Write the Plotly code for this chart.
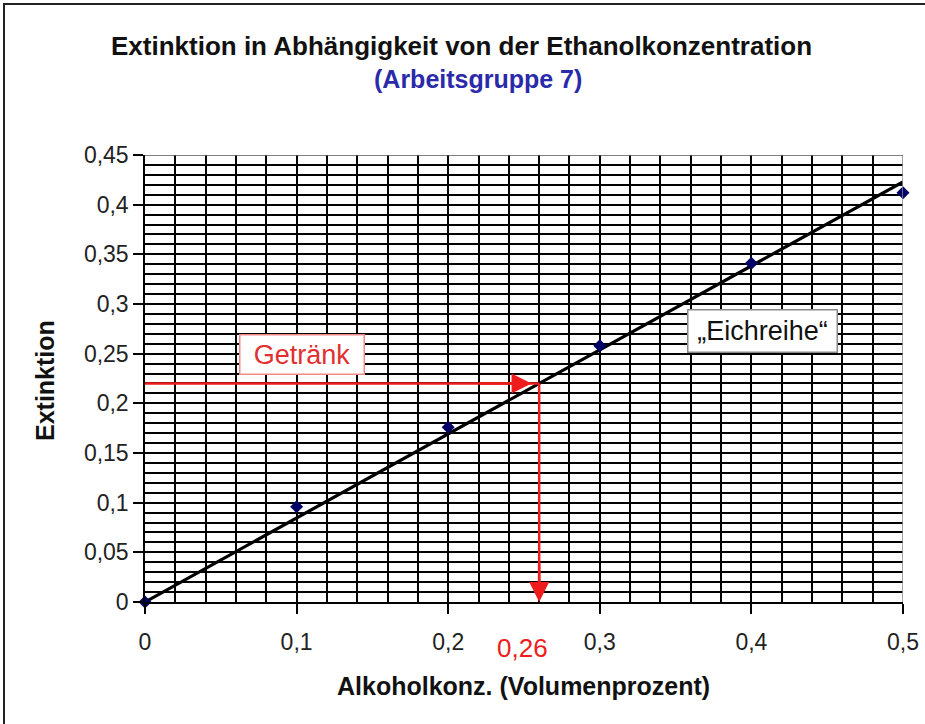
import plotly.graph_objects as go

# ---- data ----
conc = [0.0, 0.1, 0.2, 0.3, 0.4, 0.5]              # Alkoholkonz. (Volumenprozent)
extinction = [0.0, 0.096, 0.176, 0.258, 0.341, 0.412]  # Extinktion (Messwerte)
trend_x = [0.0, 0.5]                                 # Eichgerade
trend_y = [0.0, 0.423]
sample_ext = 0.22                                    # Extinktion Getränk
sample_conc = 0.26

x_ticks = [0, 0.1, 0.2, 0.3, 0.4, 0.5]
x_tick_labels = ["0", "0,1", "0,2", "0,3", "0,4", "0,5"]
y_ticks = [0, 0.05, 0.1, 0.15, 0.2, 0.25, 0.3, 0.35, 0.4, 0.45]
y_tick_labels = ["0", "0,05", "0,1", "0,15", "0,2", "0,25", "0,3", "0,35", "0,4", "0,45"]

title_text = "Extinktion in Abhängigkeit von der Ethanolkonzentration"
subtitle_text = "(Arbeitsgruppe 7)"
x_title = "Alkoholkonz. (Volumenprozent)"
y_title = "Extinktion"

FONT = "Arial, Liberation Sans, sans-serif"
RED = "#ee1c1c"

W, H = 925, 724
L, R, T, B = 145, 22, 155, 122
PW, PH = W - L - R, H - T - B


def px_x(p):
    return (p - L) / PW


def px_y(p):
    return (H - B - p) / PH


def paper_text(x, y, text, size, color, angle=0):
    fig.add_annotation(x=px_x(x), y=px_y(y), xref="paper", yref="paper",
                       xanchor="center", yanchor="middle", text=text,
                       showarrow=False, textangle=angle,
                       font=dict(family=FONT, size=size, color=color))


fig = go.Figure()

fig.add_trace(go.Scatter(
    x=trend_x, y=trend_y, mode="lines",
    line=dict(color="black", width=3.2), hoverinfo="skip", showlegend=False))

fig.add_trace(go.Scatter(
    x=conc, y=extinction, mode="markers",
    marker=dict(symbol="diamond", size=10, color="#000066"),
    showlegend=False, cliponaxis=False))

# plot-area frame (gray at top / right)
fig.add_shape(type="line", xref="x", yref="y", x0=0.5, x1=0.5, y0=0, y1=0.45,
              line=dict(color="#8c8c8c", width=1.5), layer="above")
fig.add_shape(type="line", xref="x", yref="y", x0=0, x1=0.5, y0=0.45, y1=0.45,
              line=dict(color="#555555", width=1.5), layer="above")

# red reading lines
fig.add_shape(type="line", xref="x", yref="y",
              x0=0, x1=sample_conc, y0=sample_ext, y1=sample_ext,
              line=dict(color=RED, width=2.5))
fig.add_shape(type="line", xref="x", yref="y",
              x0=sample_conc, x1=sample_conc, y0=sample_ext, y1=0.02,
              line=dict(color=RED, width=2.5))
# arrowheads
fig.add_annotation(x=sample_conc - 0.005, y=sample_ext, ax=sample_conc - 0.04, ay=sample_ext,
                   xref="x", yref="y", axref="x", ayref="y", text="",
                   showarrow=True, arrowhead=2, arrowsize=1.6, arrowwidth=2.5, arrowcolor=RED)
fig.add_annotation(x=sample_conc, y=0, ax=sample_conc, ay=0.04,
                   xref="x", yref="y", axref="x", ayref="y", text="",
                   showarrow=True, arrowhead=2, arrowsize=1.6, arrowwidth=2.5, arrowcolor=RED)

# text boxes
fig.add_annotation(x=0.1036, y=0.2487, xref="x", yref="y", text="Getränk",
                   xanchor="center", yanchor="middle",
                   showarrow=False, font=dict(family=FONT, size=27, color="#e03030"),
                   bgcolor="white", bordercolor="#f08a8a", borderwidth=1.5,
                   width=121, height=36, borderpad=1)
fig.add_annotation(x=0.407, y=0.2733, xref="x", yref="y", text="\u201eEichreihe\u201c",
                   xanchor="center", yanchor="middle",
                   showarrow=False, font=dict(family=FONT, size=27, color="#111111"),
                   bgcolor="white", bordercolor="#8a8a8a", borderwidth=1.5,
                   width=146, height=39, borderpad=1)

# 0,26 reading
fig.add_annotation(x=sample_conc - 0.011, y=px_y(648), xref="x", yref="paper",
                   xanchor="center", yanchor="middle",
                   text=f"{sample_conc}".replace(".", ","), showarrow=False,
                   font=dict(family=FONT, size=26, color=RED))

# titles
paper_text(461.5, 46, f"<b>{title_text}</b>", 26, "#111111")
paper_text(478, 79, f"<b>{subtitle_text}</b>", 25, "#2a2aaa")
paper_text(523, 686, f"<b>{x_title}</b>", 25, "#111111")
paper_text(45, 381, f"<b>{y_title}</b>", 25, "#111111", angle=-90)

# outer frame
fig.add_shape(type="rect", xref="paper", yref="paper",
              x0=px_x(4), x1=px_x(W + 20), y0=px_y(H + 20), y1=px_y(4),
              line=dict(color="#222222", width=2), layer="below")

fig.update_layout(
    width=W, height=H,
    margin=dict(l=L, r=R, t=T, b=B, autoexpand=False),
    paper_bgcolor="white", plot_bgcolor="white",
    font=dict(family=FONT, size=22, color="#222222"),
    showlegend=False,
    xaxis=dict(range=[0, 0.5], tickvals=x_ticks, ticktext=x_tick_labels,
               automargin=False,
               showgrid=True, gridcolor="black", gridwidth=1.5,
               minor=dict(dtick=0.02, tick0=0, showgrid=True, gridcolor="black", gridwidth=1.5),
               ticks="outside", ticklen=10, tickcolor="black", tickwidth=1.5,
               showline=True, linecolor="black", linewidth=1.5,
               zeroline=False, fixedrange=True,
               tickfont=dict(family=FONT, size=23, color="#222222"),
               ticklabelstandoff=9),
    yaxis=dict(range=[0, 0.45], tickvals=y_ticks, ticktext=y_tick_labels,
               automargin=False,
               showgrid=True, gridcolor="black", gridwidth=1.5,
               minor=dict(dtick=0.01, tick0=0, showgrid=True, gridcolor="black", gridwidth=1.5),
               ticks="outside", ticklen=10, tickcolor="black", tickwidth=1.5,
               showline=True, linecolor="black", linewidth=1.5,
               zeroline=False, fixedrange=True,
               tickfont=dict(family=FONT, size=23, color="#222222")),
)

fig.write_html("out.html", config={"displayModeBar": False},
               post_script="document.body.style.margin='0';document.body.style.overflow='hidden';")
